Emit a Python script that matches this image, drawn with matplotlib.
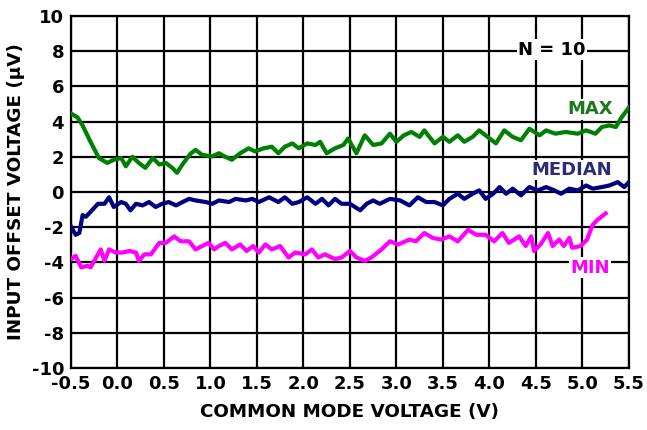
import numpy as np
import matplotlib
matplotlib.use("Agg")
import matplotlib.pyplot as plt

# Valores
max_x = [-0.52, -0.43, -0.375, -0.29, -0.2, -0.11, -0.04, 0.04, 0.09, 0.16, 0.23, 0.30, 0.38, 0.45,
         0.52, 0.59, 0.64, 0.71, 0.79, 0.84, 0.91, 1.02, 1.09, 1.16, 1.23, 1.32, 1.41, 1.48, 1.57,
         1.66, 1.73, 1.80, 1.88, 1.95, 2.04, 2.13, 2.18, 2.25, 2.34, 2.43, 2.48, 2.57, 2.66, 2.75,
         2.84, 2.93, 3.00, 3.08, 3.16, 3.25, 3.30, 3.41, 3.50, 3.57, 3.66, 3.73, 3.82, 3.89, 3.98,
         4.07, 4.16, 4.25, 4.34, 4.43, 4.54, 4.61, 4.71, 4.82, 4.95, 5.04, 5.14, 5.21, 5.29, 5.36,
         5.41, 5.50]
max_y = [4.52, 4.24, 3.78, 2.85, 1.93, 1.65, 1.83, 1.93, 1.46, 2.0, 1.65, 1.37, 1.93, 1.56,
         1.65, 1.37, 1.09, 1.65, 2.2, 2.39, 2.11, 2.02, 2.2, 2.0, 1.83, 2.2, 2.48, 2.3, 2.48,
         2.57, 2.2, 2.57, 2.76, 2.48, 2.76, 2.67, 2.85, 2.2, 2.48, 2.67, 3.04, 2.2, 3.22, 2.67,
         2.76, 3.31, 2.85, 3.22, 3.41, 3.13, 3.5, 2.76, 3.13, 2.85, 3.22, 2.85, 3.13, 3.5, 3.13,
         2.76, 3.5, 3.13, 2.94, 3.59, 3.22, 3.5, 3.31, 3.41, 3.31, 3.5, 3.31, 3.69, 3.78, 3.69,
         4.15, 4.8]

med_x = [-0.5, -0.45, -0.41, -0.375, -0.34, -0.29, -0.21, -0.14, -0.09, -0.04, 0.04, 0.09, 0.14,
         0.2, 0.27, 0.34, 0.41, 0.48, 0.55, 0.63, 0.7, 0.77, 0.84, 0.95, 1.02, 1.09, 1.2, 1.27,
         1.38, 1.45, 1.52, 1.63, 1.73, 1.8, 1.88, 1.95, 2.04, 2.13, 2.2, 2.27, 2.34, 2.41, 2.5,
         2.61, 2.68, 2.75, 2.82, 2.93, 3.04, 3.14, 3.23, 3.32, 3.41, 3.5, 3.57, 3.66, 3.73, 3.82,
         3.89, 3.96, 4.04, 4.11, 4.18, 4.25, 4.34, 4.43, 4.52, 4.61, 4.7, 4.77, 4.86, 4.95, 5.04,
         5.11, 5.21, 5.29, 5.38, 5.45, 5.5]
med_y = [-1.96, -2.43, -2.33, -1.31, -1.41, -1.13, -0.67, -0.67, -0.3, -0.85, -0.57, -0.67, -1.04,
         -0.67, -0.76, -0.57, -0.85, -0.67, -0.57, -0.76, -0.57, -0.39, -0.48, -0.57, -0.67, -0.48,
         -0.57, -0.39, -0.48, -0.39, -0.57, -0.3, -0.57, -0.3, -0.67, -0.57, -0.3, -0.67, -0.39,
         -0.76, -0.39, -0.67, -0.67, -1.04, -0.67, -0.48, -0.67, -0.39, -0.48, -0.76, -0.3, -0.57,
         -0.57, -0.76, -0.39, -0.1, -0.39, -0.1, 0.09, -0.39, -0.1, 0.28, -0.1, 0.19, -0.19, 0.28,
         0.09, 0.28, 0.09, -0.1, 0.19, 0.09, 0.37, 0.19, 0.28, 0.37, 0.56, 0.28, 0.56]

min_x = [-0.5, -0.45, -0.39, -0.32, -0.29, -0.23, -0.18, -0.14, -0.09, -0.02, 0.05, 0.13, 0.2,
         0.23, 0.29, 0.36, 0.45, 0.52, 0.61, 0.68, 0.77, 0.84, 0.91, 0.98, 1.04, 1.09, 1.16, 1.23,
         1.32, 1.39, 1.46, 1.52, 1.59, 1.66, 1.75, 1.84, 1.91, 2.02, 2.09, 2.16, 2.23, 2.34, 2.41,
         2.5, 2.57, 2.66, 2.73, 2.84, 2.93, 3.02, 3.14, 3.21, 3.3, 3.39, 3.48, 3.57, 3.66, 3.77,
         3.86, 3.96, 4.05, 4.14, 4.21, 4.32, 4.39, 4.45, 4.48, 4.55, 4.63, 4.68, 4.75, 4.8, 4.86,
         4.89, 4.98, 5.05, 5.11, 5.16, 5.25]
min_y = [-3.81, -3.63, -4.28, -4.19, -4.28, -3.72, -3.26, -3.91, -3.26, -3.44, -3.44, -3.35, -3.44,
         -3.91, -3.54, -3.54, -2.89, -2.89, -2.52, -2.8, -2.8, -3.26, -3.07, -2.89, -3.26, -3.07,
         -2.89, -3.26, -2.98, -3.35, -3.07, -3.44, -2.98, -3.26, -3.07, -3.72, -3.44, -3.54, -3.26,
         -3.72, -3.54, -3.81, -3.72, -3.35, -3.72, -3.91, -3.72, -3.26, -2.8, -2.98, -2.7, -2.8,
         -2.33, -2.61, -2.7, -2.52, -2.8, -2.15, -2.43, -2.43, -2.8, -2.33, -2.89, -2.52, -3.07,
         -2.52, -3.35, -2.98, -2.33, -3.07, -2.7, -3.07, -2.61, -3.17, -3.07, -2.7, -1.87, -1.59,
         -1.22]

x_ticks = np.arange(-0.5, 5.51, 0.5)
y_ticks = np.arange(-10, 11, 2)

plt.rcParams['font.family'] = 'DejaVu Sans'
plt.rcParams['font.weight'] = 'bold'

fig = plt.figure(figsize=(6.47, 4.30), dpi=100)
ax = fig.add_axes([0.1097, 0.144, 0.8623, 0.819])

ax.plot(max_x, max_y, color='#008000', lw=3, solid_joinstyle='round', zorder=3)
ax.plot(med_x, med_y, color='#000080', lw=3, solid_joinstyle='round', zorder=3)
ax.plot(min_x, min_y, color='#ff00ff', lw=3, solid_joinstyle='round', zorder=3)

ax.set_xlim(-0.5, 5.5)
ax.set_ylim(-10, 10)
ax.set_xticks(x_ticks)
ax.set_yticks(y_ticks)
ax.set_xticklabels([f"{v:.1f}" for v in x_ticks])
ax.set_yticklabels([f"{v:d}" for v in y_ticks])
ax.tick_params(length=0, labelsize=13, pad=5)
ax.grid(True, color='black', lw=1.6)
ax.set_axisbelow(True)
for s in ax.spines.values():
    s.set_linewidth(1.6)

ax.set_xlabel('COMMON MODE VOLTAGE (V)', fontsize=13.2, fontweight='bold', labelpad=7)
ax.set_ylabel('INPUT OFFSET VOLTAGE (µV)', fontsize=13.2, fontweight='bold', labelpad=5)

fundo = dict(facecolor='white', edgecolor='none', pad=1)
ax.text(4.67, 8.07, 'N = 10', color='black', fontsize=13, ha='center', va='center', bbox=fundo, zorder=4)
ax.text(5.08, 4.7, 'MAX', color='#1a7a1a', fontsize=13, ha='center', va='center', bbox=fundo, zorder=4)
ax.text(4.89, 1.25, 'MEDIAN', color='#2b2b7a', fontsize=13, ha='center', va='center', bbox=fundo, zorder=4)
ax.text(5.08, -4.3, 'MIN', color='#ff00ff', fontsize=13, ha='center', va='center', bbox=fundo, zorder=4)

fig.savefig('out.png', dpi=100)
